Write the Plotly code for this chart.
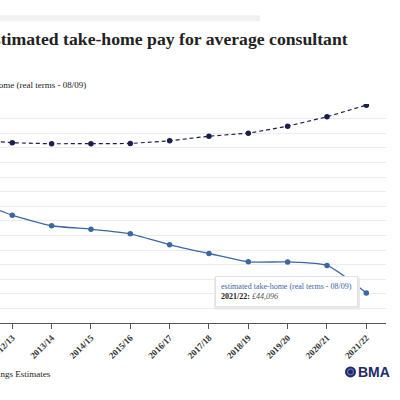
import plotly.graph_objects as go

years = ["2011/12", "2012/13", "2013/14", "2014/15", "2015/16", "2016/17",
         "2017/18", "2018/19", "2019/20", "2020/21", "2021/22"]
real_terms = [56900, 54770, 53320, 52850, 52220, 50710, 49520, 48380, 48360, 47880, 44096]
nominal = [65100, 64690, 64550, 64550, 64590, 64960, 65590, 66000, 66960, 68250, 69840]
real_name = "estimated take-home (real terms - 08/09)"
nominal_name = "estimated take-home (nominal)"

W, H = 400, 400
PL, PR = 0, 386          # plot area in px
PT, PB = 104, 323.5
def px(x):
    return (x - PL) / (PR - PL)
def py(y):
    return (PB - y) / (PB - PT)

SERIF = "Liberation Serif, Times New Roman, serif"
BLUE = "#3b68a3"
NAVY = "#1c1f4d"

fig = go.Figure()
fig.add_trace(go.Scatter(
    x=years, y=nominal, name=nominal_name, mode="lines+markers",
    line=dict(color=NAVY, width=1.2, dash="4px,3px"),
    marker=dict(color=NAVY, size=5.5),
))
fig.add_trace(go.Scatter(
    x=years, y=real_terms, name=real_name, mode="lines+markers",
    line=dict(color=BLUE, width=1.3, shape="spline", smoothing=0.6),
    marker=dict(color=BLUE, size=5.5),
))

fig.update_layout(
    width=W, height=H,
    margin=dict(l=PL, r=W - PR, t=PT, b=H - PB, pad=0, autoexpand=False),
    paper_bgcolor="white", plot_bgcolor="white",
    showlegend=False,
    font=dict(family=SERIF, color="#222"),
    xaxis=dict(
        type="category", range=[0.688, 10.5], automargin=False,
        showgrid=False, showline=True, linecolor="#555", linewidth=1,
        ticks="outside", ticklen=5, tickcolor="#555", tickwidth=1,
        tickangle=-45, tickfont=dict(family=SERIF, size=9, color="#333", weight="bold"),
        zeroline=False,
    ),
    yaxis=dict(
        range=[40000, 70000], dtick=2000, automargin=False,
        showgrid=True, gridcolor="#ececec", gridwidth=1,
        showticklabels=False, zeroline=False, showline=False, ticks="",
    ),
)

shapes = []
# faint bar at top
shapes.append(dict(type="rect", xref="paper", yref="paper",
                   x0=px(-5), x1=px(260), y0=py(21), y1=py(15),
                   fillcolor="#f1f1f1", line=dict(width=0), layer="below"))
# tooltip shadow
shapes.append(dict(type="rect", xref="paper", yref="paper",
                   x0=px(214), x1=px(360), y0=py(310), y1=py(278),
                   fillcolor="#e9e9e9", line=dict(width=0), layer="above"))
# BMA logo circle
shapes.append(dict(type="circle", xref="paper", yref="paper",
                   x0=px(345), x1=px(356), y0=py(378), y1=py(367),
                   fillcolor="#1d2a6b", line=dict(width=0), layer="above"))
shapes.append(dict(type="circle", xref="paper", yref="paper",
                   x0=px(347.5), x1=px(353.5), y0=py(375.5), y1=py(369.5),
                   fillcolor="rgba(0,0,0,0)", line=dict(width=0.8, color="#8fa0d0"), layer="above"))
fig.update_layout(shapes=shapes)

ann = []
ann.append(dict(text="<b>Estimated take-home pay for average consultant</b>",
                xref="paper", yref="paper", x=px(-20), y=py(39),
                xanchor="left", yanchor="middle", showarrow=False,
                font=dict(family=SERIF, size=17.7, color="#222")))
ann.append(dict(text=real_name[0].upper() + real_name[1:],
                xref="paper", yref="paper", x=px(88), y=py(85),
                xanchor="right", yanchor="middle", showarrow=False,
                font=dict(family=SERIF, size=9, color="#222")))
ann.append(dict(text="Source: Annual Survey of Hours and Earnings Estimates",
                xref="paper", yref="paper", x=px(53), y=py(375),
                xanchor="right", yanchor="middle", showarrow=False,
                font=dict(family=SERIF, size=9, color="#222")))
ann.append(dict(text="<b>BMA</b>",
                xref="paper", yref="paper", x=px(356), y=py(372.5),
                xanchor="left", yanchor="middle", showarrow=False,
                font=dict(family="Liberation Sans, Arial, sans-serif", size=14, color="#1d2a6b")))
# tooltip
tip = (f"<span style='color:{BLUE}'>{real_name}</span><br>"
       f"<b>{years[-1]}:</b> <i style='color:#555'>£{real_terms[-1]:,}</i>")
ann.append(dict(text=tip, xref="x", yref="y", x=years[-1], y=real_terms[-1],
                xanchor="right", yanchor="middle", xshift=-8, yshift=1.5,
                showarrow=False, align="left",
                bgcolor="white", bordercolor="#e2e2e2", borderwidth=1, borderpad=5,
                font=dict(family=SERIF, size=8, color="#222")))
fig.update_layout(annotations=ann)

fig.write_html("out.html", config={"displayModeBar": False},
               post_script="document.body.style.margin='0';")
